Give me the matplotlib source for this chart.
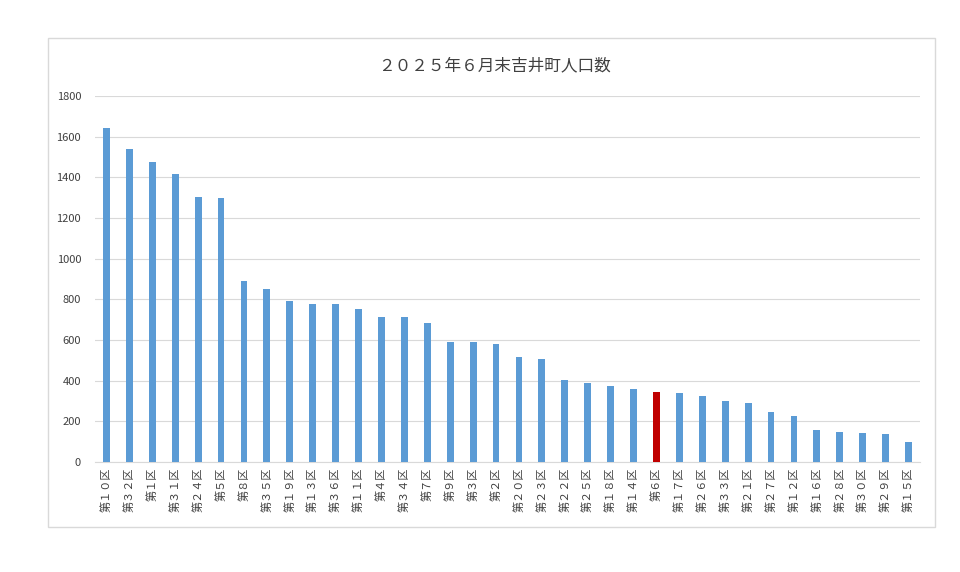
import matplotlib
matplotlib.use("Agg")
import matplotlib.pyplot as plt
from matplotlib.patches import Rectangle

plt.rcParams["font.family"] = "Noto Sans CJK JP"

# データ
districts = [10, 32, 1, 31, 24, 5, 8, 35, 19, 13, 36, 11, 4, 34, 7, 9, 3, 2,
             20, 23, 22, 25, 18, 14, 6, 17, 26, 33, 21, 27, 12, 16, 28, 30, 29, 15]
population = [1645, 1540, 1475, 1415, 1305, 1300, 890, 852, 790, 778, 775, 752,
              715, 712, 686, 592, 588, 578, 518, 506, 405, 390, 375, 358, 343,
              340, 325, 300, 290, 248, 228, 155, 148, 145, 140, 98]
highlight = 6
yticks = [0, 200, 400, 600, 800, 1000, 1200, 1400, 1600, 1800]
title = "２０２５年６月末吉井町人口数"

FW = str.maketrans("0123456789", "０１２３４５６７８９")
labels = ["第" + str(d).translate(FW) + "区" for d in districts]

fig = plt.figure(figsize=(9.6, 5.72), dpi=100)
fig.patch.set_facecolor("white")
fig.add_artist(Rectangle((48 / 960, 1 - 527 / 572), 887 / 960, 489 / 572,
                         transform=fig.transFigure, fill=False,
                         edgecolor="#d9d9d9", linewidth=1))

ax = fig.add_axes([95 / 960, 1 - 462 / 572, 825 / 960, 366 / 572])
colors = ["#c00000" if d == highlight else "#5b9bd5" for d in districts]
x = range(len(districts))
ax.bar(x, population, width=0.3, color=colors, zorder=3)
ax.set_xlim(-0.5, len(districts) - 0.5)
ax.set_ylim(0, 1800)
ax.set_yticks(yticks)
ax.tick_params(axis="y", length=0, labelsize=8, colors="#404040", pad=10)
ax.set_xticks(list(x))
ax.set_xticklabels(labels, rotation=90, fontsize=8, color="#404040")
ax.tick_params(axis="x", length=0, pad=4)
ax.grid(axis="y", color="#d9d9d9", linewidth=0.8, zorder=0)
for s in ["top", "right", "left"]:
    ax.spines[s].set_visible(False)
ax.spines["bottom"].set_color("#d9d9d9")

fig.text(495 / 960, 1 - 66 / 572, title, ha="center", va="center",
         fontsize=12, color="#404040")

fig.savefig("out.png", dpi=100)
